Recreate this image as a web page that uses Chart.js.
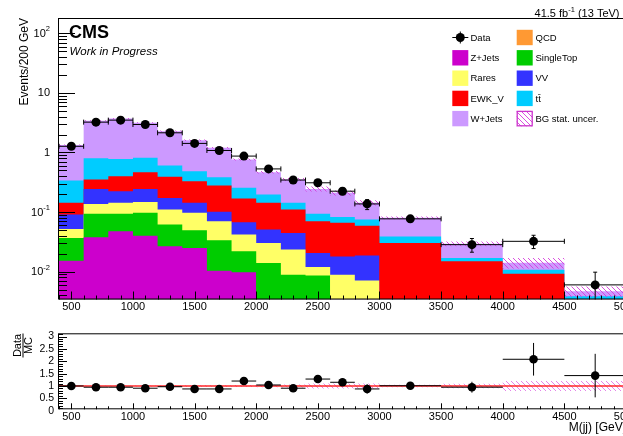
<!DOCTYPE html>
<html>
<head>
<meta charset="utf-8">
<script src="https://cdn.jsdelivr.net/npm/chart.js@4.4.1/dist/chart.umd.min.js"></script>
<style>
  html, body { margin: 0; padding: 0; background: #fff; overflow: hidden; width: 623px; height: 436px; }
  #wrap { position: relative; width: 623px; height: 436px; overflow: hidden; }
  canvas { position: absolute; left: 0; }
  #mainPad { top: 0; }
  #ratioPad { top: 320px; }
</style>
</head>
<body>
<div id="wrap">
  <canvas id="mainPad" width="640" height="320"></canvas>
  <canvas id="ratioPad" width="640" height="116"></canvas>
</div>
<script>
// ---- binning (GeV) ----
const binEdges = [400, 600, 800, 1000, 1200, 1400, 1600, 1800, 2000, 2200, 2400, 2600, 2800, 3000, 3500, 4000, 4500, 5000];

// ---- background components, Events/200 GeV ----
const qcd       = [0, 0, 0.0055, 0, 0, 0, 0, 0, 0, 0, 0, 0, 0, 0, 0, 0, 0];
const zJets     = [0.0153, 0.0377, 0.0422, 0.040, 0.0266, 0.025, 0.0104, 0.0098, 0.0041, 0, 0, 0, 0, 0, 0, 0, 0];
const singleTop = [0.0215, 0.0563, 0.0464, 0.057, 0.0351, 0.0244, 0.0232, 0.0122, 0.0099, 0.0089, 0.0086, 0.0053, 0, 0, 0, 0, 0];
const rares     = [0.0152, 0.043, 0.049, 0.051, 0.0483, 0.0476, 0.0364, 0.020, 0.0164, 0.0146, 0.0034, 0.0036, 0.0071, 0.0058, 0, 0, 0];
const vv        = [0.039, 0.108, 0.081, 0.097, 0.063, 0.046, 0.031, 0.0255, 0.0204, 0.0212, 0.0086, 0.0091, 0.0115, 0.0047, 0, 0, 0];
const ewkV      = [0.052, 0.107, 0.176, 0.222, 0.217, 0.187, 0.178, 0.1015, 0.0922, 0.0653, 0.0494, 0.048, 0.0404, 0.0198, 0.0149, 0.0092, 0.0033];
const ttbar     = [0.195, 0.448, 0.38, 0.348, 0.215, 0.155, 0.106, 0.086, 0.054, 0.033, 0.024, 0.017, 0.016, 0.0087, 0.0021, 0.0016, 0.00055];
const wJets     = [0.992, 2.60, 2.95, 2.345, 1.675, 1.125, 0.815, 0.508, 0.270, 0.209, 0.151, 0.127, 0.068, 0.041, 0.0123, 0.0033, 0.00085];
// relative statistical uncertainty of the summed background
const bgStatRel = [0.02, 0.02, 0.02, 0.02, 0.025, 0.03, 0.03, 0.04, 0.05, 0.06, 0.1, 0.1, 0.1, 0.05, 0.09, 0.2, 0.2];

// ---- observed data ----
const dataVals  = [1.27, 3.23, 3.49, 2.95, 2.14, 1.42, 1.08, 0.87, 0.53, 0.345, 0.31, 0.224, 0.137, 0.077, 0.0284, 0.0323, 0.0060];
const dataErrLo = [0.08, 0.13, 0.14, 0.12, 0.10, 0.08, 0.07, 0.06, 0.045, 0.035, 0.033, 0.028, 0.027, 0.009, 0.0072, 0.0079, 0.0045];
const dataErrHi = [0.08, 0.13, 0.14, 0.12, 0.10, 0.08, 0.07, 0.06, 0.045, 0.035, 0.033, 0.028, 0.025, 0.009, 0.0076, 0.0085, 0.0038];

// ---- Data / MC ----
const ratioVals = [1.0, 0.95, 0.95, 0.91, 0.97, 0.88, 0.88, 1.2, 1.04, 0.91, 1.28, 1.15, 0.88, 1.01, 0.95, 2.08, 1.42];
const ratioErr  = [0.05, 0.04, 0.04, 0.04, 0.05, 0.05, 0.06, 0.08, 0.09, 0.1, 0.11, 0.14, 0.19, 0.11, 0.22, 0.66, 0.88];

// ---- axis ticks ----
const xTickLabels = [500, 1000, 1500, 2000, 2500, 3000, 3500, 4000, 4500, 5000];
const yLogLabels = [[100, '10', '2'], [10, '10', ''], [1, '1', ''], [0.1, '10', '-1'], [0.01, '10', '-2']];
const ratioTickLabels = [0, 0.5, 1, 1.5, 2, 2.5, 3];

const FONT = '"Liberation Sans", Arial, Helvetica, sans-serif';
const binCenters = binEdges.slice(0, -1).map((e, i) => (e + binEdges[i + 1]) / 2);

const components = [
  { name: 'QCD',       vals: qcd,       color: '#ff9933' },
  { name: 'Z+Jets',    vals: zJets,     color: '#cc00cc' },
  { name: 'SingleTop', vals: singleTop, color: '#00cc00' },
  { name: 'Rares',     vals: rares,     color: '#ffff66' },
  { name: 'VV',        vals: vv,        color: '#3333ff' },
  { name: 'EWK_V',     vals: ewkV,      color: '#ff0000' },
  { name: 'tt\u0304',  vals: ttbar,     color: '#00ccff' },
  { name: 'W+Jets',    vals: wJets,     color: '#cc99ff' }
];

// running sums, bottom of the stack first
const cumulative = [];
components.forEach((comp, k) => {
  cumulative.push(comp.vals.map((v, i) => v + (k ? cumulative[k - 1][i] : 0)));
});
const totalBg = cumulative[cumulative.length - 1];

function stepPoints(vals) {
  const pts = vals.map((v, i) => ({ x: binEdges[i], y: v }));
  pts.push({ x: binEdges[vals.length], y: vals[vals.length - 1] });
  return pts;
}

function hatchPattern(color, size) {
  const c = document.createElement('canvas');
  c.width = c.height = size;
  const g = c.getContext('2d');
  g.strokeStyle = color;
  g.lineWidth = 1;
  g.beginPath();
  g.moveTo(-1, -1); g.lineTo(size + 1, size + 1);
  g.moveTo(-1, size - 1); g.lineTo(1, size + 1);
  g.moveTo(size - 1, -1); g.lineTo(size + 1, 1);
  g.stroke();
  return g.createPattern(c, 'repeat');
}
const mainHatch = hatchPattern('rgba(214,60,220,0.9)', 5);
const ratioHatch = hatchPattern('rgba(225,110,230,0.85)', 5);

function line(ctx, x0, y0, x1, y1) {
  ctx.beginPath(); ctx.moveTo(x0, y0); ctx.lineTo(x1, y1); ctx.stroke();
}

function drawErrorBars(chart, vals, lo, hi, caps) {
  const { ctx, chartArea: a } = chart;
  const xs = chart.scales.x, ys = chart.scales.y;
  ctx.save();
  ctx.beginPath();
  ctx.rect(a.left, a.top - 1, a.right - a.left, a.bottom - a.top + 1);
  ctx.clip();
  ctx.strokeStyle = '#000';
  ctx.lineWidth = 1;
  vals.forEach((v, i) => {
    const x0 = xs.getPixelForValue(binEdges[i]);
    const x1 = xs.getPixelForValue(binEdges[i + 1]);
    const xc = xs.getPixelForValue(binCenters[i]);
    const yc = ys.getPixelForValue(v);
    const yl = ys.getPixelForValue(Math.max(v - lo[i], 1e-9));
    const yh = ys.getPixelForValue(v + hi[i]);
    ctx.beginPath();
    ctx.moveTo(x0, yc); ctx.lineTo(x1, yc);
    ctx.moveTo(xc, yl); ctx.lineTo(xc, yh);
    if (caps) {
      ctx.moveTo(x0, yc - 2.5); ctx.lineTo(x0, yc + 2.5);
      ctx.moveTo(x1, yc - 2.5); ctx.lineTo(x1, yc + 2.5);
      ctx.moveTo(xc - 2, yl); ctx.lineTo(xc + 2, yl);
      ctx.moveTo(xc - 2, yh); ctx.lineTo(xc + 2, yh);
    }
    ctx.stroke();
  });
  ctx.restore();
}

function drawFrame(ctx, a) {
  ctx.strokeStyle = '#000';
  ctx.lineWidth = 1;
  ctx.strokeRect(a.left - 0.5, a.top + 0.5, a.right - a.left, a.bottom - a.top - 1);
}

const whiteBg = {
  id: 'whiteBg',
  beforeDraw(chart) {
    const c = chart.ctx;
    c.save(); c.fillStyle = '#fff'; c.fillRect(0, 0, chart.width, chart.height); c.restore();
  }
};

// ---------------- upper pad ----------------
const mainDatasets = [];
mainDatasets.push({
  label: 'Data', data: binCenters.map((x, i) => ({ x, y: dataVals[i] })),
  showLine: false, pointRadius: 4.5, pointHoverRadius: 4.5,
  pointBackgroundColor: '#000', pointBorderWidth: 0, order: 0
});
mainDatasets.push({
  label: 'BG stat. uncer.', data: stepPoints(totalBg.map((t, i) => t * (1 + bgStatRel[i]))),
  stepped: true, borderWidth: 0, pointRadius: 0, fill: '+1', backgroundColor: mainHatch, order: 1
});
mainDatasets.push({
  label: 'bg low', data: stepPoints(totalBg.map((t, i) => t * (1 - bgStatRel[i]))),
  stepped: true, borderWidth: 0, pointRadius: 0, fill: false, order: 1
});
components.forEach((comp, k) => {
  mainDatasets.push({
    label: comp.name, data: stepPoints(cumulative[k]),
    stepped: true, borderWidth: 0, pointRadius: 0, fill: 'start',
    backgroundColor: comp.color, order: 2 + k
  });
});

const mainDecor = {
  id: 'mainDecor',
  afterDatasetsDraw(chart) {
    drawErrorBars(chart, dataVals, dataErrLo, dataErrHi, true);
  },
  afterDraw(chart) {
    const c = chart.ctx, a = chart.chartArea, xs = chart.scales.x, ys = chart.scales.y;
    c.save();
    drawFrame(c, a);
    c.strokeStyle = '#000'; c.lineWidth = 1;
    // x ticks
    for (let v = 400; v <= 5000; v += 100) {
      const px = Math.round(xs.getPixelForValue(v)) + 0.5;
      line(c, px, a.bottom, px, a.bottom - (v % 500 === 0 ? 8 : 4));
    }
    // log y ticks
    for (let d = -3; d <= 2; d++) {
      for (let k = 1; k <= 9; k++) {
        const v = k * Math.pow(10, d);
        if (v < ys.min || v > ys.max) continue;
        const py = Math.round(ys.getPixelForValue(v)) + 0.5;
        line(c, a.left, py, a.left + (k === 1 ? 16 : 8), py);
      }
    }
    c.fillStyle = '#000';
    // x labels
    c.font = '11px ' + FONT; c.textAlign = 'center'; c.textBaseline = 'middle';
    xTickLabels.forEach(v => c.fillText(String(v), xs.getPixelForValue(v), a.bottom + 7.5));
    // y labels with exponents
    yLogLabels.forEach(([v, base, exp]) => {
      const py = ys.getPixelForValue(v);
      let right = 50;
      c.textBaseline = 'middle'; c.textAlign = 'right';
      if (exp) {
        c.font = '7.5px ' + FONT;
        c.fillText(exp, right, py - 4);
        right -= c.measureText(exp).width;
      }
      c.font = '11px ' + FONT;
      c.fillText(base, right, py + 0.5);
    });
    // y title
    c.save();
    c.translate(25, a.top);
    c.rotate(-Math.PI / 2);
    c.font = '12px ' + FONT; c.textAlign = 'right'; c.textBaseline = 'middle';
    c.fillText('Events/200 GeV', 0, 0);
    c.restore();
    // labels inside the frame
    c.textAlign = 'left'; c.textBaseline = 'alphabetic';
    c.font = 'bold 18px ' + FONT;
    c.fillText('CMS', 69, 37.5);
    c.font = 'italic 11.5px ' + FONT;
    c.fillText('Work in Progress', 69.5, 55);
    // luminosity
    c.font = '11px ' + FONT; c.textAlign = 'right';
    const tail = ' (13 TeV)';
    let xr = 619.5;
    c.fillText(tail, xr, 16.5);
    xr -= c.measureText(tail).width;
    c.font = '7.5px ' + FONT;
    c.fillText('-1', xr, 12);
    xr -= c.measureText('-1').width;
    c.font = '11px ' + FONT;
    c.fillText('41.5 fb', xr, 16.5);
    // legend
    const rowY = [37.5, 57.8, 78.2, 98.4, 118.6];
    const colBox = [452.3, 516.7];
    const colText = [470.5, 535.5];
    const entries = [
      [0, 0, 'Data', 'data'], [1, 0, 'QCD', '#ff9933'],
      [0, 1, 'Z+Jets', '#cc00cc'], [1, 1, 'SingleTop', '#00cc00'],
      [0, 2, 'Rares', '#ffff66'], [1, 2, 'VV', '#3333ff'],
      [0, 3, 'EWK_V', '#ff0000'], [1, 3, 'tt\u0304', '#00ccff'],
      [0, 4, 'W+Jets', '#cc99ff'], [1, 4, 'BG stat. uncer.', 'hatch']
    ];
    c.font = '9.5px ' + FONT; c.textAlign = 'left'; c.textBaseline = 'middle';
    entries.forEach(([col, row, label, kind]) => {
      const bx = colBox[col], by = rowY[row];
      if (kind === 'data') {
        c.strokeStyle = '#000'; c.lineWidth = 1;
        line(c, bx, by, bx + 16, by);
        line(c, bx + 8, by - 6, bx + 8, by + 6);
        c.beginPath(); c.arc(bx + 8, by, 4.5, 0, Math.PI * 2); c.fillStyle = '#000'; c.fill();
      } else if (kind === 'hatch') {
        c.fillStyle = '#fff'; c.fillRect(bx, by - 7.7, 16, 15.4);
        c.fillStyle = mainHatch; c.fillRect(bx, by - 7.7, 16, 15.4);
        c.strokeStyle = '#cc33cc'; c.lineWidth = 1.3;
        c.strokeRect(bx + 0.5, by - 7.2, 15, 14.4);
      } else {
        c.fillStyle = kind; c.fillRect(bx, by - 7.7, 16, 15.4);
      }
      c.fillStyle = '#000';
      c.fillText(label, colText[col], by + 0.5);
    });
    c.restore();
  }
};

new Chart(document.getElementById('mainPad'), {
  type: 'line',
  data: { datasets: mainDatasets },
  options: {
    responsive: false, animation: false, devicePixelRatio: 1,
    layout: { padding: { left: 59, top: 18, right: 14, bottom: 20.5 } },
    plugins: { legend: { display: false }, tooltip: { enabled: false } },
    events: [],
    scales: {
      x: { type: 'linear', min: 400, max: 5000, display: false, bounds: 'data' },
      y: { type: 'logarithmic', min: 0.00341, max: 180.7, display: false, bounds: 'data' }
    }
  },
  plugins: [whiteBg, mainDecor]
});

// ---------------- ratio pad ----------------
const ratioDecor = {
  id: 'ratioDecor',
  afterDatasetsDraw(chart) {
    drawErrorBars(chart, ratioVals, ratioErr, ratioErr, false);
  },
  afterDraw(chart) {
    const c = chart.ctx, a = chart.chartArea, xs = chart.scales.x, ys = chart.scales.y;
    c.save();
    drawFrame(c, a);
    c.strokeStyle = '#000'; c.lineWidth = 1;
    for (let v = 400; v <= 5000; v += 100) {
      const px = Math.round(xs.getPixelForValue(v)) + 0.5;
      line(c, px, a.bottom, px, a.bottom - (v % 500 === 0 ? 6 : 3));
    }
    for (let t = 1; t <= 31; t++) {
      const v = t / 10;
      if (v > ys.max) continue;
      const py = Math.round(ys.getPixelForValue(v)) + 0.5;
      line(c, a.left, py, a.left + (t % 5 === 0 ? 8 : 4), py);
    }
    c.fillStyle = '#000';
    c.font = '11px ' + FONT; c.textAlign = 'center'; c.textBaseline = 'middle';
    xTickLabels.forEach(v => c.fillText(String(v), xs.getPixelForValue(v), a.bottom + 7.5));
    c.font = '10.5px ' + FONT; c.textAlign = 'right';
    ratioTickLabels.forEach(v => c.fillText(String(v), 54, ys.getPixelForValue(v)));
    // x title
    c.font = '12px ' + FONT; c.textAlign = 'right'; c.textBaseline = 'middle';
    c.fillText('M(jj) [GeV]', 626, 108);
    // y title as a fraction
    c.save();
    c.translate(23, 25.5);
    c.rotate(-Math.PI / 2);
    c.font = '11px ' + FONT; c.textAlign = 'center'; c.textBaseline = 'middle';
    c.fillText('Data', 0, -5.5);
    c.fillText('MC', 0, 5.5);
    line(c, -12, 0, 12, 0);
    c.restore();
    c.restore();
  }
};

new Chart(document.getElementById('ratioPad'), {
  type: 'line',
  data: {
    datasets: [
      {
        label: 'Data/MC', data: binCenters.map((x, i) => ({ x, y: ratioVals[i] })),
        showLine: false, pointRadius: 4.3, pointHoverRadius: 4.3,
        pointBackgroundColor: '#000', pointBorderWidth: 0, order: 0
      },
      {
        label: 'unity', data: [{ x: 400, y: 1 }, { x: 5000, y: 1 }],
        borderColor: 'rgb(255,40,40)', borderWidth: 1.5, pointRadius: 0, fill: false, order: 1
      },
      {
        label: 'stat up', data: stepPoints(bgStatRel.map(e => 1 + e)),
        stepped: true, borderWidth: 0, pointRadius: 0, fill: '+1', backgroundColor: ratioHatch, order: 2
      },
      {
        label: 'stat down', data: stepPoints(bgStatRel.map(e => 1 - e)),
        stepped: true, borderWidth: 0, pointRadius: 0, fill: false, order: 2
      }
    ]
  },
  options: {
    responsive: false, animation: false, devicePixelRatio: 1,
    layout: { padding: { left: 59, top: 13.3, right: 14, bottom: 26.7 } },
    plugins: { legend: { display: false }, tooltip: { enabled: false } },
    events: [],
    scales: {
      x: { type: 'linear', min: 400, max: 5000, display: false, bounds: 'data' },
      y: { type: 'linear', min: 0.057, max: 3.13, display: false, bounds: 'data' }
    }
  },
  plugins: [whiteBg, ratioDecor]
});
</script>
</body>
</html>
